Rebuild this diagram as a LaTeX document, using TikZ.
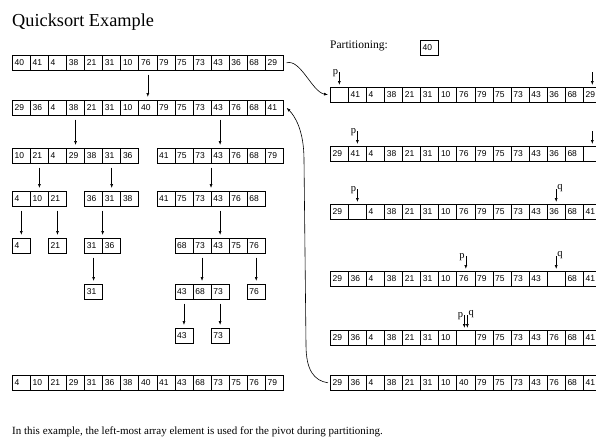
\documentclass[tikz,border=0pt]{standalone}
\usepackage{fontspec}
\setmainfont{Liberation Serif}
\newfontfamily\cellfamily{Liberation Sans}
\usetikzlibrary{arrows.meta,calc}

% one row of array cells: name, origin x, first column, top y, values
\newcommand\cellrow[5]{%
  \foreach \v [count=\i] in {#5}{%
    \node[cell] (#1-\i) at ({#2+(#3+\i-1)*18.07},#4) {\v};
    \xdef\lastcell{\i}%
  }%
  \coordinate (#1-t) at ($(#1-1.north west)!.5!(#1-\lastcell.north east)$);
  \coordinate (#1-b) at ($(#1-1.south west)!.5!(#1-\lastcell.south east)$);
}

\begin{document}
\begin{tikzpicture}[x=1pt,y=-1pt,
  cell/.style={draw, line width=0.6pt, anchor=north west, minimum height=15pt,
    text width=13.5pt, inner xsep=2.28pt, inner ysep=0pt, align=left,
    font=\cellfamily\fontsize{8.5}{9}\selectfont},
  arr/.style={line width=0.6pt, -{Latex[length=4pt,width=3pt]}},
  down/.style={arr, shorten <=4pt, shorten >=3pt},
  lbl/.style={font=\fontsize{10.5}{10}\selectfont, inner sep=0pt},
]
\useasboundingbox (0,0) rectangle (596,437);
\clip (0,0) rectangle (596,437);

\node[anchor=base west, font=\fontsize{18.3}{20}\selectfont, inner sep=0pt] (title) at (12,26) {Quicksort Example};

% recursion tree
\cellrow{L1}{12}{0}{55}{40,41,4,38,21,31,10,76,79,75,73,43,36,68,29}
\cellrow{L2}{12}{0}{100}{29,36,4,38,21,31,10,40,79,75,73,43,76,68,41}
\cellrow{L3a}{12}{0}{148}{10,21,4,29,38,31,36}
\cellrow{L3b}{12}{8}{148}{41,75,73,43,76,68,79}
\cellrow{L4a}{12}{0}{191}{4,10,21}
\cellrow{L4b}{12}{4}{191}{36,31,38}
\cellrow{L4c}{12}{8}{191}{41,75,73,43,76,68}
\cellrow{L5a}{12}{0}{238}{4}
\cellrow{L5b}{12}{2}{238}{21}
\cellrow{L5c}{12}{4}{238}{31,36}
\cellrow{L5d}{12}{9}{238}{68,73,43,75,76}
\cellrow{L6a}{12}{4}{284}{31}
\cellrow{L6b}{12}{9}{284}{43,68,73}
\cellrow{L6c}{12}{13}{284}{76}
\cellrow{L7a}{12}{9}{328}{43}
\cellrow{L7b}{12}{11}{328}{73}
\cellrow{L8}{12}{0}{375}{4,10,21,29,31,36,38,40,41,43,68,73,75,76,79}

\draw[down] (L1-b -| L2-8.north) -- (L2-8.north);
\draw[down] (L2-b -| L3a-t) -- (L3a-t);
\draw[down] (L2-b -| L3b-t) -- (L3b-t);
\draw[down] (L3a-b -| L4a-t) -- (L4a-t);
\draw[down] (L3a-b -| L4b-t) -- (L4b-t);
\draw[down] (L3b-b -| L4c-t) -- (L4c-t);
\draw[down] (L4a-b -| L5a-t) -- (L5a-t);
\draw[down] (L4a-b -| L5b-t) -- (L5b-t);
\draw[down] (L4b-b -| L5c-t) -- (L5c-t);
\draw[down] (L4c-b -| L5d-t) -- (L5d-t);
\draw[down] (L5c-b -| L6a-t) -- (L6a-t);
\draw[down] (L5d-b -| L6b-t) -- (L6b-t);
\draw[down] (L5d-b -| L6c-t) -- (L6c-t);
\draw[down] (L6b-b -| L7a-t) -- (L7a-t);
\draw[down] (L6b-b -| L7b-t) -- (L7b-t);

% partitioning steps
\node[anchor=base west, font=\fontsize{11.5}{12}\selectfont, inner sep=0pt] (part) at (330,48) {Partitioning:};
\node[cell] (piv) at (420,40) {40};

\cellrow{R1}{330}{0}{87}{{},41,4,38,21,31,10,76,79,75,73,43,36,68,29}
\cellrow{R2}{330}{0}{146}{29,41,4,38,21,31,10,76,79,75,73,43,36,68,{}}
\cellrow{R3}{330}{0}{204}{29,{},4,38,21,31,10,76,79,75,73,43,36,68,41}
\cellrow{R4}{330}{0}{271}{29,36,4,38,21,31,10,76,79,75,73,43,{},68,41}
\cellrow{R5}{330}{0}{330}{29,36,4,38,21,31,10,{},79,75,73,43,76,68,41}
\cellrow{R6}{330}{0}{375}{29,36,4,38,21,31,10,40,79,75,73,43,76,68,41}

% p / q pointers
\draw[arr] ([yshift=15pt]R1-1.north) -- ([yshift=2pt]R1-1.north);
\node[lbl, anchor=east] (p1) at ([xshift=-1pt,yshift=14pt]R1-1.north) {p};
\draw[arr] ([yshift=15pt]R1-15.north) -- ([yshift=2pt]R1-15.north);

\draw[arr] ([yshift=15pt]R2-2.north) -- ([yshift=2pt]R2-2.north);
\node[lbl, anchor=east] (p2) at ([xshift=-1pt,yshift=14pt]R2-2.north) {p};
\draw[arr] ([yshift=15pt]R2-15.north) -- ([yshift=2pt]R2-15.north);

\draw[arr] ([yshift=15pt]R3-2.north) -- ([yshift=2pt]R3-2.north);
\node[lbl, anchor=east] (p3) at ([xshift=-1pt,yshift=14pt]R3-2.north) {p};
\draw[arr] ([yshift=15pt]R3-13.north) -- ([yshift=2pt]R3-13.north);
\node[lbl, anchor=west] (q3) at ([xshift=1pt,yshift=16pt]R3-13.north) {q};

\draw[arr] ([yshift=15pt]R4-8.north) -- ([yshift=2pt]R4-8.north);
\node[lbl, anchor=east] (p4) at ([xshift=-1pt,yshift=14pt]R4-8.north) {p};
\draw[arr] ([yshift=15pt]R4-13.north) -- ([yshift=2pt]R4-13.north);
\node[lbl, anchor=west] (q4) at ([xshift=1pt,yshift=16pt]R4-13.north) {q};

\draw[arr] ([xshift=-1.5pt,yshift=15pt]R5-8.north) -- ([xshift=-1.5pt,yshift=2pt]R5-8.north);
\draw[arr] ([xshift=1.5pt,yshift=15pt]R5-8.north) -- ([xshift=1.5pt,yshift=2pt]R5-8.north);
\node[lbl, anchor=east] (p5) at ([xshift=-2.5pt,yshift=14pt]R5-8.north) {p};
\node[lbl, anchor=west] (q5) at ([xshift=2.5pt,yshift=16pt]R5-8.north) {q};

% hand-over between the tree and the partitioning steps
\draw[arr] ([xshift=3pt]L1-15.east) .. controls +(14,-4) and +(-16,-3) .. ([xshift=-2pt]R1-1.west);
\draw[arr] ([xshift=-2pt]R6-1.west) .. controls +(-14,-2) and +(0,25) .. (306,345)
  -- (304,160) .. controls +(0,-30) and +(8,8) .. ([xshift=3pt]L2-15.east);

\node[anchor=base west, font=\fontsize{11}{12}\selectfont, inner sep=0pt] (foot) at (12,434)
  {In this example, the left-most array element is used for the pivot during partitioning.};
\end{tikzpicture}
\end{document}
